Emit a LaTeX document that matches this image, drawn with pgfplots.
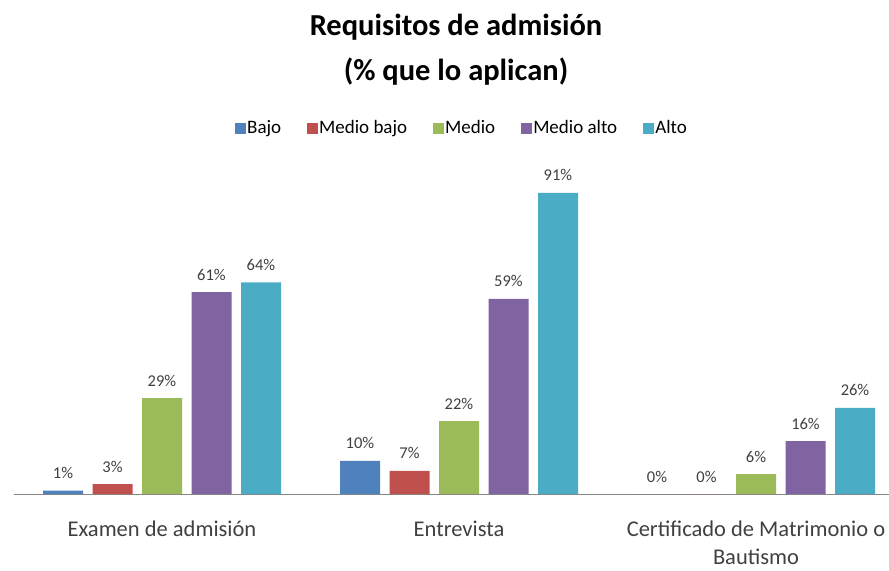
\documentclass[border=0pt]{standalone}
\usepackage{pgfplots}
\pgfplotsset{compat=1.18}
\usepackage{fontspec}
\setmainfont{Carlito}
\definecolor{cBajo}{HTML}{4F81BD}
\definecolor{cMB}{HTML}{C0504D}
\definecolor{cMedio}{HTML}{9BBB59}
\definecolor{cMA}{HTML}{8064A2}
\definecolor{cAlto}{HTML}{4BACC6}
\definecolor{txt}{HTML}{404040}
\definecolor{axl}{HTML}{868686}
\begin{document}
\begin{tikzpicture}
\useasboundingbox (-13.5bp,-77bp) rectangle (875.5bp,494bp);
\begin{axis}[
  at={(0,0)}, anchor=south west,
  scale only axis, width=875.5bp, height=330.8bp,
  xmin=-0.5, xmax=2.4478, ymin=0, ymax=100,
  ybar=9.5bp, bar width=40bp,
  axis y line=none, axis x line*=bottom,
  x axis line style={-, draw=axl, line width=1bp},
  xtick={0,1,2},
  xticklabels={Examen de admisión, Entrevista, {\begin{tabular}[t]{@{}c@{}}Certificado de Matrimonio o\\[-2bp]Bautismo\end{tabular}}},
  major tick length=0pt,
  xticklabel style={font=\fontsize{22.5bp}{30bp}\selectfont, text=txt, anchor=base, yshift=-42bp},
  /pgf/number format/assume math mode=true,
  nodes near coords={\pgfmathprintnumber{\pgfplotspointmeta}\%},
  nodes near coords style={font=\fontsize{16.5bp}{18bp}\selectfont, text=txt, anchor=base, yshift=12bp},
  title={Requisitos de admisión\\(\% que lo aplican)},
  title style={font=\bfseries\fontsize{30.5bp}{44.3bp}\selectfont, align=center, at={(0.5054,1.2334)}, anchor=base},
  legend columns=5,
  legend style={draw=none, fill=none, at={(0.5117,1.106)}, anchor=center,
    font=\fontsize{19bp}{22bp}\selectfont, nodes={inner sep=1.5bp},
    /tikz/every even column/.append style={column sep=24bp}},
  legend image code/.code={\fill[#1] (0bp,-5.5bp) rectangle (11bp,5.5bp);},
]
\addplot[fill=cBajo, draw=none] coordinates {(0,1) (1,10) (2,0)};
\addplot[fill=cMB, draw=none] coordinates {(0,3) (1,7) (2,0)};
\addplot[fill=cMedio, draw=none] coordinates {(0,29) (1,22) (2,6)};
\addplot[fill=cMA, draw=none] coordinates {(0,61) (1,59) (2,16)};
\addplot[fill=cAlto, draw=none] coordinates {(0,64) (1,91) (2,26)};
\legend{Bajo, Medio bajo, Medio, Medio alto, Alto}
\end{axis}
\end{tikzpicture}
\end{document}
